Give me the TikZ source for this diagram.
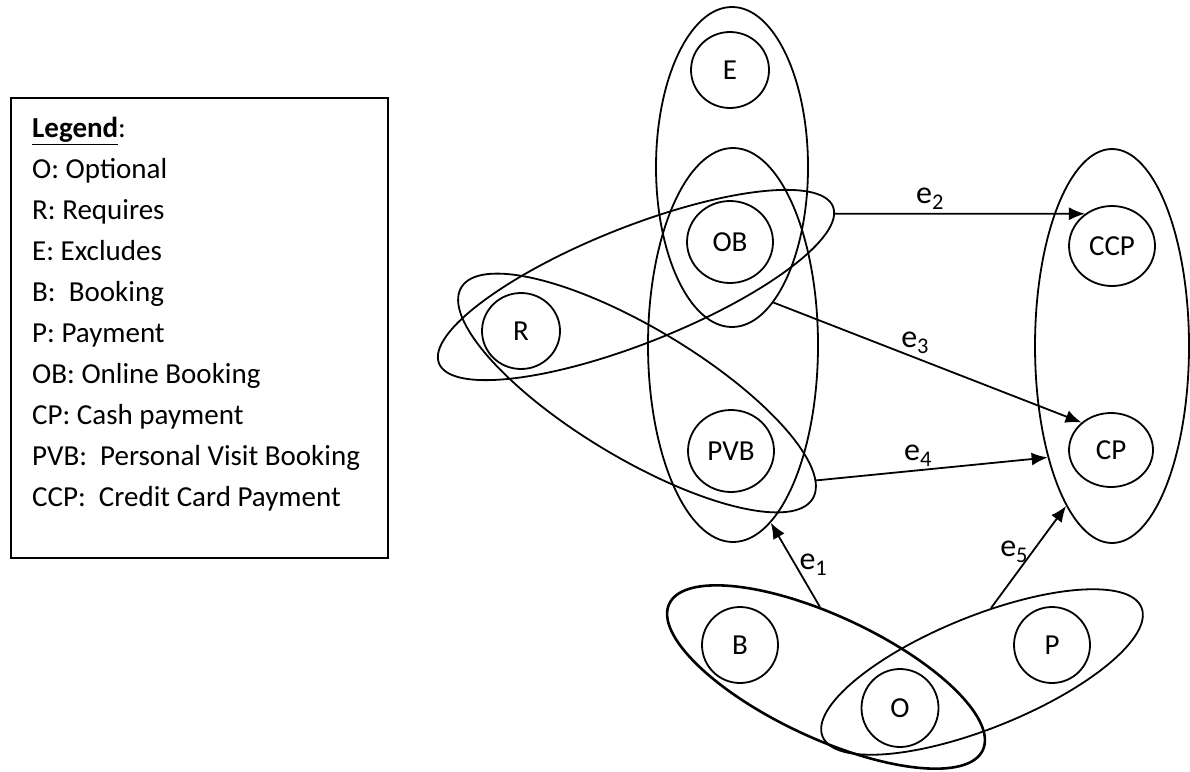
\documentclass[tikz,border=0pt]{standalone}
\usepackage{fontspec}
\setmainfont{Carlito}
\usetikzlibrary{shapes.geometric,positioning,arrows.meta}

\begin{document}
\begin{tikzpicture}[x=1pt,y=1pt,
    elem/.style={ellipse,draw,line width=1.8pt,inner sep=0pt,font=\fontsize{29}{34}\selectfont},
    grp/.style={ellipse,draw,line width=1.8pt,inner sep=0pt},
    edge/.style={->,line width=1.8pt,>={Latex[length=16pt,width=13pt]}},
    lbl/.style={font=\fontsize{32}{38}\selectfont}]
    \useasboundingbox (0,0) rectangle (1190,-771);

    % legend
    \node [draw,line width=1.8pt,anchor=north west,minimum width=377,minimum height=460] (legend) at (10,-97) {};
    \node [anchor=north west,align=left,inner sep=0pt,font=\fontsize{29}{41}\selectfont] (legtext) at (32,-117)
      {\underline{\textbf{Legend}}:\\
       O: Optional\\
       R: Requires\\
       E: Excludes\\
       B:~~Booking\\
       P: Payment\\
       OB: Online Booking\\
       CP: Cash payment\\
       PVB:~~Personal Visit Booking\\
       CCP:~~Credit Card Payment};

    % groups
    \node [grp,minimum width=152,minimum height=320] (exc) at (732,-167) {};
    \node [grp,minimum width=170,minimum height=394] (alt) at (733,-345) {};
    \node [grp,minimum width=424,minimum height=116,rotate=21.7] (rob) at (636,-285) {};
    \node [grp,minimum width=410,minimum height=130,rotate=-31] (rpvb) at (637,-393) {};
    \node [grp,minimum width=154,minimum height=394] (pay) at (1112,-346) {};
    \node [grp,line width=2.6pt,minimum width=346,minimum height=122,rotate=-25] (bo) at (826,-677) {};
    \node [grp,minimum width=344,minimum height=112,rotate=22] (op) at (982,-672) {};

    % features
    \node [elem,minimum width=78,minimum height=76] (e) at (730,-70) {E};
    \node [elem,minimum width=86,minimum height=82] (ob) at (730,-242) {OB};
    \node [elem,minimum width=78,minimum height=76] (r) at (521,-331) {R};
    \node [elem,minimum width=86,minimum height=82] (pvb) at (731,-451) {PVB};
    \node [elem,minimum width=86,minimum height=80] (ccp) at (1112,-246) {CCP};
    \node [elem,minimum width=84,minimum height=74] (cp) at (1111,-450) {CP};
    \node [elem,minimum width=76,minimum height=76] (b) at (740,-645) {B};
    \node [elem,minimum width=77,minimum height=78] (o) at (900,-708) {O};
    \node [elem,minimum width=76,minimum height=76] (p) at (1052,-645) {P};

    % edges
    \draw [edge] (bo.120) -- (alt.-78) node [lbl,midway,right] {e\textsubscript{1}};
    \draw [edge] (rob.-2) -- (ccp.130) node [lbl,pos=0.38,above] {e\textsubscript{2}};
    \draw [edge] (exc.-73) -- (cp.137) node [lbl,pos=0.46,above] {e\textsubscript{3}};
    \draw [edge] (rpvb.5) -- (pay.240) node [lbl,pos=0.44,above] {e\textsubscript{4}};
    \draw [edge] (op.60) -- (pay.254) node [lbl,pos=0.55,left] {e\textsubscript{5}};
\end{tikzpicture}
\end{document}
